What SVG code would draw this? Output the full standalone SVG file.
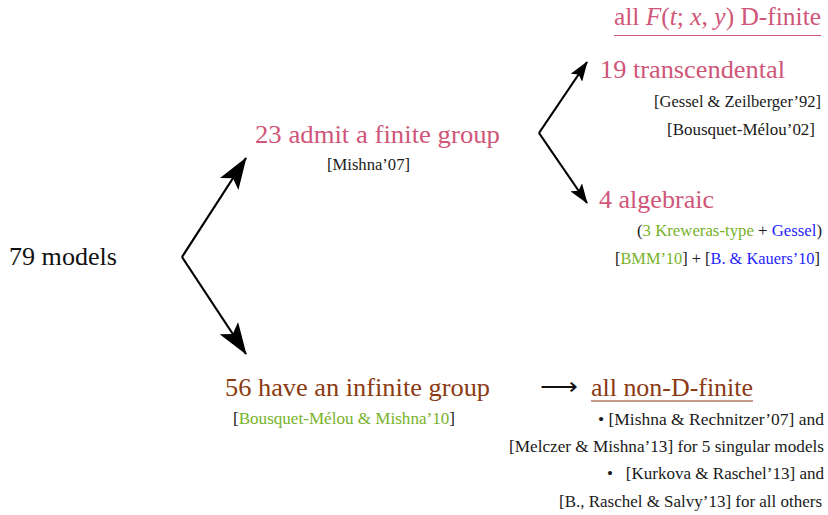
<svg xmlns="http://www.w3.org/2000/svg" width="828" height="515" viewBox="0 0 828 515">
<style>
text{font-family:"Liberation Serif","Times New Roman",serif;}
.big{font-size:25px;}
.sm{font-size:16px;fill:#1a1a1a;}
.pink{fill:#cf5679;}
.brown{fill:#8b3a12;}
.black{fill:#111;}
.green{fill:#78b22a;}
.blue{fill:#1f1fff;}
.arr{stroke:#000;stroke-width:2.2;fill:none;}
</style>
<defs>
<marker id="ahL" markerWidth="32" markerHeight="22" refX="31" refY="11" orient="auto" markerUnits="userSpaceOnUse" viewBox="0 0 32 22">
<path d="M0,0 L32,11 L0,22 L7,11 Z" fill="#000"/>
</marker>
<marker id="ahS" markerWidth="20" markerHeight="14" refX="19" refY="7" orient="auto" markerUnits="userSpaceOnUse" viewBox="0 0 20 14">
<path d="M0,0 L20,7 L0,14 L4,7 Z" fill="#000"/>
</marker>
</defs>
<g id="connectors">
<path class="arr" d="M182,257 L246,158" marker-end="url(#ahL)"/>
<path class="arr" d="M182,257 L246,354" marker-end="url(#ahL)"/>
<path class="arr" d="M539,133 L587,62" marker-end="url(#ahS)"/>
<path class="arr" d="M539,133 L587,203" marker-end="url(#ahS)"/>
</g>
<g id="n-models">
<text class="big black" x="9" y="265" textLength="108" lengthAdjust="spacingAndGlyphs">79 models</text>
</g>
<g id="n-finite">
<text class="big pink" x="255" y="143" textLength="245" lengthAdjust="spacingAndGlyphs">23 admit a finite group</text>
<text class="sm" x="327" y="170" textLength="83" lengthAdjust="spacingAndGlyphs">[Mishna’07]</text>
</g>
<g id="n-dfinite">
<text class="big pink" x="614" y="25" textLength="207" lengthAdjust="spacingAndGlyphs">all <tspan font-style="italic">F</tspan>(<tspan font-style="italic">t</tspan>; <tspan font-style="italic">x</tspan>, <tspan font-style="italic">y</tspan>) D-finite</text>
<line x1="614" y1="35.5" x2="821" y2="35.5" stroke="#cf5679" stroke-width="1.2"/>
</g>
<g id="n-transc">
<text class="big pink" x="600" y="78" textLength="185" lengthAdjust="spacingAndGlyphs">19 transcendental</text>
<text class="sm" x="654" y="107" textLength="167" lengthAdjust="spacingAndGlyphs">[Gessel &amp; Zeilberger’92]</text>
<text class="sm" x="667" y="135" textLength="148" lengthAdjust="spacingAndGlyphs">[Bousquet-Mélou’02]</text>
</g>
<g id="n-alg">
<text class="big pink" x="599" y="208" textLength="115" lengthAdjust="spacingAndGlyphs">4 algebraic</text>
<text class="sm" x="637" y="236" textLength="185" lengthAdjust="spacingAndGlyphs">(<tspan class="green">3 Kreweras-type</tspan> + <tspan class="blue">Gessel</tspan>)</text>
<text class="sm" x="615" y="264" textLength="205" lengthAdjust="spacingAndGlyphs">[<tspan class="green">BMM’10</tspan>] + [<tspan class="blue">B. &amp; Kauers’10</tspan>]</text>
</g>
<g id="n-infinite">
<text class="big brown" x="225" y="396" textLength="265" lengthAdjust="spacingAndGlyphs">56 have an infinite group</text>
<text class="sm" x="233" y="424" textLength="222" lengthAdjust="spacingAndGlyphs">[<tspan class="green">Bousquet-Mélou &amp; Mishna’10</tspan>]</text>
</g>
<g id="n-nondfinite">
<text class="big black" x="540" y="395" textLength="38" lengthAdjust="spacingAndGlyphs">⟶</text>
<text class="big brown" x="591" y="396" textLength="162" lengthAdjust="spacingAndGlyphs">all non-D-finite</text>
<line x1="591" y1="401" x2="753" y2="401" stroke="#8b3a12" stroke-width="1.2"/>
<text class="sm" x="598" y="425" textLength="226" lengthAdjust="spacingAndGlyphs">• [Mishna &amp; Rechnitzer’07] and</text>
<text class="sm" x="509" y="452" textLength="315" lengthAdjust="spacingAndGlyphs">[Melczer &amp; Mishna’13] for 5 singular models</text>
<text class="sm" x="607" y="479" textLength="217" lengthAdjust="spacingAndGlyphs" xml:space="preserve">•   [Kurkova &amp; Raschel’13] and</text>
<text class="sm" x="559" y="507" textLength="263" lengthAdjust="spacingAndGlyphs">[B., Raschel &amp; Salvy’13] for all others</text>
</g>
</svg>
